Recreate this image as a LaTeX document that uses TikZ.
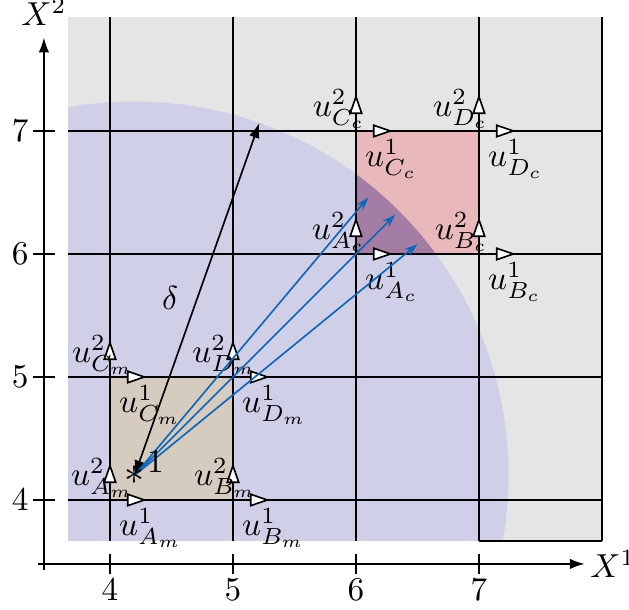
\documentclass[tikz,border=0pt]{standalone}
\usetikzlibrary{arrows.meta,calc}

\definecolor{zonegray}{gray}{0.9}
\definecolor{ballblue}{RGB}{207,207,232}
\definecolor{cellbrown}{RGB}{213,203,190}
\definecolor{cellred}{RGB}{233,184,186}
\definecolor{cellmix}{RGB}{163,125,163}
\definecolor{raycol}{RGB}{16,102,184}

\begin{document}
\begin{tikzpicture}[x=1.3cm, y=1.3cm,
    % Estilos
    gridline/.style={line width=0.6pt, draw=black},
    axisline/.style={line width=0.6pt, -{Latex[length=4.5pt,width=3.2pt]}},
    tickline/.style={line width=0.5pt},
    uvec/.style={line width=0.5pt, -{Triangle[open,fill=white,length=6pt,width=4pt]}},
    ulab/.style={inner sep=0pt},
    ray/.style={draw=raycol, line width=0.5pt, -{Stealth[length=4pt,width=2.6pt]}},
    radius arrow/.style={line width=0.5pt, {Latex[length=4.5pt,width=3.2pt]}-{Latex[length=4.5pt,width=3.2pt]}}
]
\useasboundingbox (3.106,3.106) rectangle (8.220,8.065);

% ---------------------------------------------------------
% 1. ZONAS (fondo, bola y celdas)
% ---------------------------------------------------------
\coordinate (P) at (4.2,4.2);
\fill[zonegray] (3.66,3.67) rectangle (8.01,7.93);
\begin{scope}
  \clip (3.66,3.67) rectangle (8.01,7.93);
  \fill[ballblue] (P) circle (3.04);
\end{scope}
\fill[cellbrown] (4,4) rectangle (5,5);
\fill[cellred] (6,6) rectangle (7,7);
\begin{scope}
  \clip (P) circle (3.04);
  \fill[cellmix] (6,6) rectangle (7,7);
\end{scope}

% ---------------------------------------------------------
% 2. MALLA
% ---------------------------------------------------------
\foreach \x in {4,...,8} \draw[gridline] (\x,3.67) -- (\x,7.93);
\foreach \y in {4,...,7} \draw[gridline] (3.66,\y) -- (8.01,\y);
\draw[gridline] (7,3.67) -- (8,3.67);

% ---------------------------------------------------------
% 3. EJES
% ---------------------------------------------------------
\coordinate (xa0) at (3.415,3.48);
\coordinate (xa1) at (7.86,3.48);
\coordinate (ya0) at (3.463,3.43);
\coordinate (ya1) at (3.463,7.76);
\draw[axisline] (xa0) -- (xa1);
\draw[axisline] (ya0) -- (ya1);
\node[right, inner sep=1.5pt] (xlab) at (xa1) {$X^1$};
\node[above] (ylab) at (ya1) {$X^2$};

\foreach \t in {4,...,7} {
  \draw[tickline] (\t,3.40) -- (\t,3.56);
  \node (xt\t) at (\t,3.27) {$\t$};
  \draw[tickline] (3.373,\t) -- (3.553,\t);
  \node (yt\t) at (3.27,\t) {$\t$};
}

% ---------------------------------------------------------
% 4. VECTORES u EN LAS ESQUINAS
% ---------------------------------------------------------
\foreach \c/\s/\t/\x/\y/\dx in {Am/A/m/4/4/0.2, Bm/B/m/5/4/0.2, Cm/C/m/4/5/0.2, Dm/D/m/5/5/0.2,
                                Ac/A/c/6/6/0.08, Bc/B/c/7/6/0.08, Cc/C/c/6/7/0.08, Dc/D/c/7/7/0.08} {
  \coordinate (\c) at (\x,\y);
  \draw[uvec] (\c) -- ++(0.3,0);
  \draw[uvec] (\c) -- ++(0,0.3);
  \node[ulab, anchor=north west] (\c one) at ($(\c)+(0.07,-0.06)$) {$u^1_{\s_\t}$};
  \node[ulab, anchor=east] (\c two) at ($(\c)+(\dx,0.18)$) {$u^2_{\s_\t}$};
}

% ---------------------------------------------------------
% 5. PUNTO, RADIO Y RAYOS
% ---------------------------------------------------------
\coordinate (Q) at ($(P)+(70.5:3.04)$);
\draw[radius arrow] (P) -- (Q);
\node (dlab) at (4.49,5.64) {$\delta$};

\coordinate (T1) at (6.10,6.46);
\coordinate (T2) at (6.32,6.32);
\coordinate (T3) at (6.50,6.08);
\foreach \i in {1,2,3} \draw[ray] (P) -- (T\i);

\node[inner sep=0pt, font=\large] (star) at (P) {$\ast$};
\node (onelab) at (4.37,4.31) {$1$};

\end{tikzpicture}
\end{document}
